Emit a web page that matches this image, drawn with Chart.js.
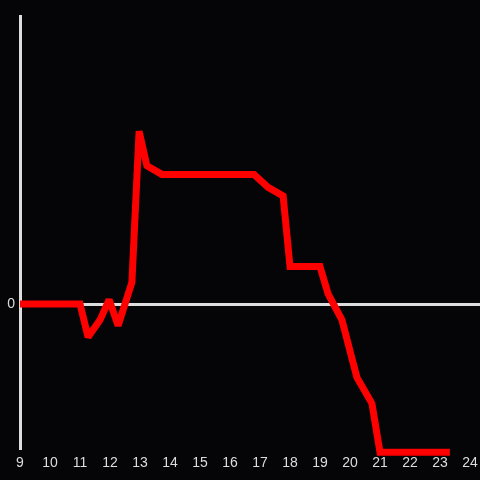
<!DOCTYPE html>
<html>
<head>
<meta charset="utf-8">
<script src="https://cdn.jsdelivr.net/npm/chart.js@4"></script>
<style>
  html, body { margin: 0; padding: 0; background: #050406; }
  #wrap { width: 480px; height: 480px; }
</style>
</head>
<body>
<div id="wrap"><canvas id="chart"></canvas></div>
<script>
// hour of day and value
const hours = [9, 11, 11.27, 11.67, 11.97, 12.27, 12.73, 12.97, 13.23, 13.73, 16.8, 17.27, 17.77, 18.0, 19.0, 19.27, 19.73, 20.23, 20.73, 21.0, 23.33];
const values = [0, 0, -2.3, -1.1, 0.3, -1.5, 1.5, 12.0, 9.6, 9.0, 9.0, 8.1, 7.5, 2.6, 2.6, 0.7, -1.1, -5.1, -6.9, -10.3, -10.3];
const hourTicks = [9, 10, 11, 12, 13, 14, 15, 16, 17, 18, 19, 20, 21, 22, 23, 24];

const AXIS = '#dddddd';

// keep sharp joins from turning into long spikes
const miterPlugin = {
  id: 'miter',
  beforeDatasetsDraw(chart) { chart.ctx.miterLimit = 2; }
};

new Chart(document.getElementById('chart'), {
  type: 'line',
  data: {
    datasets: [{
      data: hours.map((h, i) => ({ x: h, y: values[i] })),
      borderColor: '#ff0000',
      borderWidth: 7,
      borderJoinStyle: 'miter',
      pointRadius: 0,
      tension: 0,
      fill: false,
      clip: false
    }]
  },
  options: {
    responsive: true,
    maintainAspectRatio: false,
    animation: false,
    layout: { padding: { top: 16, left: 0, right: 0, bottom: 0 } },
    plugins: { legend: { display: false }, tooltip: { enabled: false } },
    scales: {
      x: {
        type: 'linear',
        min: 9,
        max: 24.333,
        afterBuildTicks: s => { s.ticks = hourTicks.map(v => ({ value: v })); },
        afterFit: s => { s.height = 32; s.paddingLeft = 0; s.paddingRight = 0; },
        grid: { display: false, drawTicks: false },
        border: { display: false },
        ticks: {
          color: AXIS,
          padding: 7,
          maxRotation: 0,
          autoSkip: false,
          font: { family: 'Liberation Sans, Arial, sans-serif', size: 14 }
        }
      },
      y: {
        min: -10,
        max: 20,
        afterBuildTicks: s => { s.ticks = [{ value: 0 }]; },
        afterFit: s => { s.width = 20; },
        grid: { color: AXIS, lineWidth: 3, drawTicks: false },
        border: { display: true, color: AXIS, width: 3 },
        ticks: {
          color: AXIS,
          padding: 5,
          font: { family: 'Liberation Sans, Arial, sans-serif', size: 14 }
        }
      }
    }
  },
  plugins: [miterPlugin]
});
</script>
</body>
</html>
